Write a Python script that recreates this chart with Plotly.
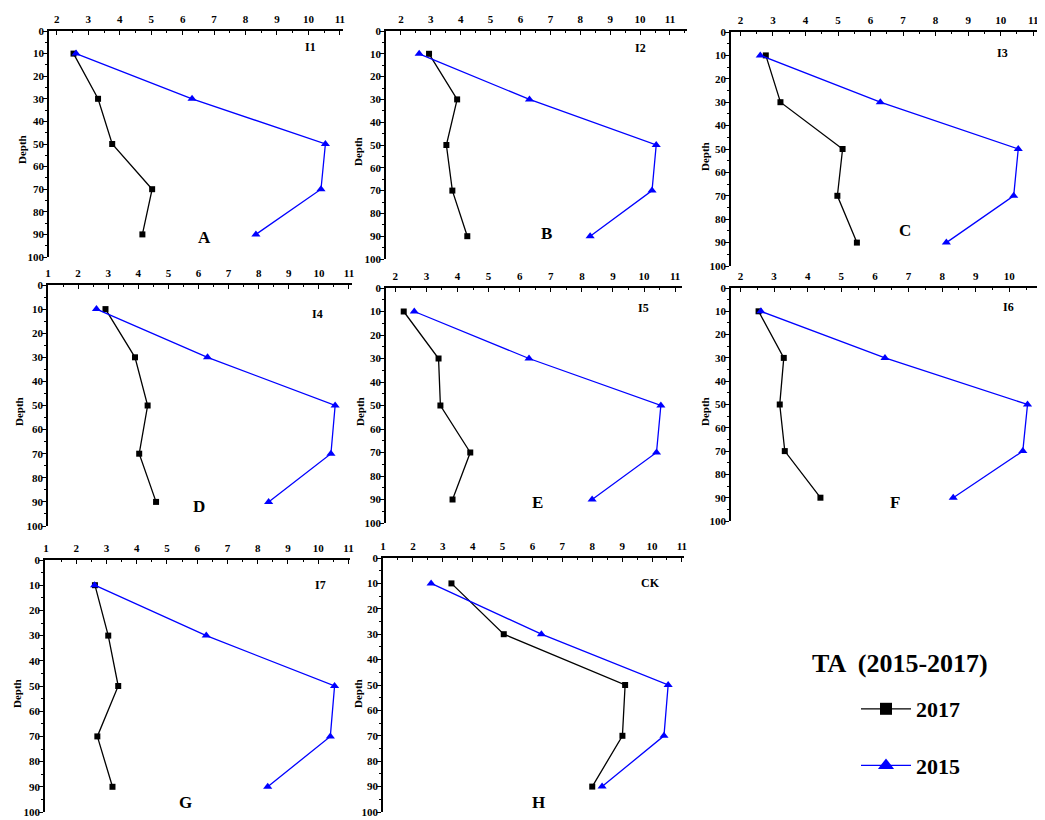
import plotly.graph_objects as go

depth = [10, 30, 50, 70, 90]
panel_names = ["I1", "I2", "I3", "I4", "I5", "I6", "I7", "CK"]
panel_letters = ["A", "B", "C", "D", "E", "F", "G", "H"]

ta_2017_I1 = [2.53, 3.31, 3.76, 5.03, 4.72]
ta_2017_I2 = [2.94, 3.88, 3.52, 3.72, 4.22]
ta_2017_I3 = [2.78, 3.23, 5.14, 4.98, 5.58]
ta_2017_I4 = [2.91, 3.89, 4.31, 4.03, 4.59]
ta_2017_I5 = [2.27, 3.39, 3.45, 4.41, 3.84]
ta_2017_I6 = [2.54, 3.29, 3.17, 3.32, 4.38]
ta_2017_I7 = [2.62, 3.06, 3.39, 2.70, 3.20]
ta_2017_CK = [3.29, 5.04, 9.10, 9.01, 8.00]
ta_2015 = [2.61, 6.30, 10.54, 10.40, 8.33]

series_2017 = [ta_2017_I1, ta_2017_I2, ta_2017_I3, ta_2017_I4,
               ta_2017_I5, ta_2017_I6, ta_2017_I7, ta_2017_CK]

# page body has an 8px margin; lay out in screen pixels and shift
OFF = 8
W, H = 1045 - OFF, 820 - OFF


def fx(p):
    return (p - OFF) / W


def fy(p):
    return 1 - (p - OFF) / H


# panel boxes in screen pixels: (left, right, top, bottom) and x ranges
boxes = [(49, 343, 31, 257), (386, 687, 31, 259), (731, 1042, 32, 266),
         (48, 352, 285, 526), (386, 682, 288, 523), (731, 1045, 288, 521),
         (45, 350, 560, 812), (383, 684, 558, 812)]
xranges = [[1.75, 11.1], [1.5, 11.57], [1.71, 11.27],
           [1.0, 11.1], [1.7, 11.22], [1.72, 11.06],
           [0.97, 11.05], [1.0, 11.07]]
name_pos = [(310, 47), (640, 48), (1002, 53), (317, 314), (643, 308),
            (1008, 307), (320, 585), (650, 583)]
letter_pos = [(204, 237), (546, 233), (905, 230), (199, 506), (537, 502),
              (895, 502), (185, 802), (538, 802)]
depth_pos = [(22, 150), (358, 152), (705, 157), (19, 412), (360, 412),
             (705, 412), (17, 694), (358, 694)]

SERIF = "Liberation Serif"
fig = go.Figure()
layout = {}
annotations = []

for i in range(8):
    n = i + 1
    xa = "x" if n == 1 else f"x{n}"
    ya = "y" if n == 1 else f"y{n}"
    l, r, t, b = boxes[i]
    fig.add_trace(go.Scatter(
        x=series_2017[i], y=depth, xaxis=xa, yaxis=ya, mode="lines+markers",
        line=dict(color="black", width=1.3),
        marker=dict(symbol="square", size=6, color="black"),
        showlegend=False, cliponaxis=False))
    fig.add_trace(go.Scatter(
        x=ta_2015, y=depth, xaxis=xa, yaxis=ya, mode="lines+markers",
        line=dict(color="#0000FF", width=1.3),
        marker=dict(symbol="triangle-up", size=8, color="#0000FF"),
        showlegend=False, cliponaxis=False))
    xkey = "xaxis" if n == 1 else f"xaxis{n}"
    ykey = "yaxis" if n == 1 else f"yaxis{n}"
    layout[xkey] = dict(
        domain=[max(fx(l), 0), min(fx(r), 1)], range=xranges[i], anchor=ya, side="top",
        automargin=False,
        showline=True, linecolor="black", linewidth=1.5, mirror=False,
        showgrid=False, zeroline=False, dtick=1, tick0=0,
        ticks="inside", ticklen=4, tickwidth=1.3, tickcolor="black",
        minor=dict(ticks="inside", ticklen=2, dtick=0.5, tickcolor="black", tickwidth=1),
        tickfont=dict(family=SERIF, size=11, color="black", weight="bold"),
        ticklabelstandoff=2, fixedrange=True)
    layout[ykey] = dict(
        domain=[max(fy(b), 0), min(fy(t), 1)], range=[100, 0], anchor=xa,
        automargin=False,
        showline=True, linecolor="black", linewidth=1.5,
        showgrid=False, zeroline=False, dtick=10, tick0=0,
        ticks="outside", ticklen=4, tickwidth=1.3, tickcolor="black",
        minor=dict(ticks="outside", ticklen=2, dtick=5, tickcolor="black", tickwidth=1),
        tickfont=dict(family=SERIF, size=11, color="black", weight="bold"),
        ticklabelstandoff=-3, fixedrange=True)
    nx, ny = name_pos[i]
    annotations.append(dict(x=fx(nx), y=fy(ny), xref="paper", yref="paper",
                            xanchor="center", yanchor="middle",
                            text=panel_names[i], showarrow=False,
                            font=dict(family=SERIF, size=12, color="black", weight="bold")))
    lx, ly = letter_pos[i]
    annotations.append(dict(x=fx(lx), y=fy(ly), xref="paper", yref="paper",
                            xanchor="center", yanchor="middle",
                            text=panel_letters[i], showarrow=False,
                            font=dict(family=SERIF, size=17, color="black", weight="bold")))
    dx, dy = depth_pos[i]
    annotations.append(dict(x=fx(dx), y=fy(dy), xref="paper", yref="paper",
                            xanchor="center", yanchor="middle", textangle=-90,
                            text="Depth", showarrow=False,
                            font=dict(family=SERIF, size=11, color="black", weight="bold")))

# legend-only entries
fig.add_trace(go.Scatter(x=[None], y=[None], mode="lines+markers", name="2017",
                         line=dict(color="black", width=1.3),
                         marker=dict(symbol="square", size=12, color="black"),
                         legendgroup="a", showlegend=True))
fig.add_trace(go.Scatter(x=[None], y=[None], mode="lines+markers", name="2015",
                         line=dict(color="#0000FF", width=1.3),
                         marker=dict(symbol="triangle-up", size=14, color="#0000FF"),
                         legendgroup="b", showlegend=True))

annotations.append(dict(x=fx(900), y=fy(663), xref="paper", yref="paper",
                        xanchor="center", yanchor="middle",
                        text="TA  (2015-2017)", showarrow=False,
                        font=dict(family=SERIF, size=26, color="black", weight="bold")))

fig.update_layout(
    width=W, height=H, margin=dict(l=0, r=0, t=0, b=0, autoexpand=False),
    paper_bgcolor="white", plot_bgcolor="white",
    annotations=annotations,
    legend=dict(x=fx(856), y=fy(688), xanchor="left", yanchor="top",
                font=dict(family=SERIF, size=22, color="black", weight="bold"),
                tracegroupgap=25, itemwidth=50, bgcolor="rgba(0,0,0,0)"),
    **layout)

fig.write_html("out.html")
